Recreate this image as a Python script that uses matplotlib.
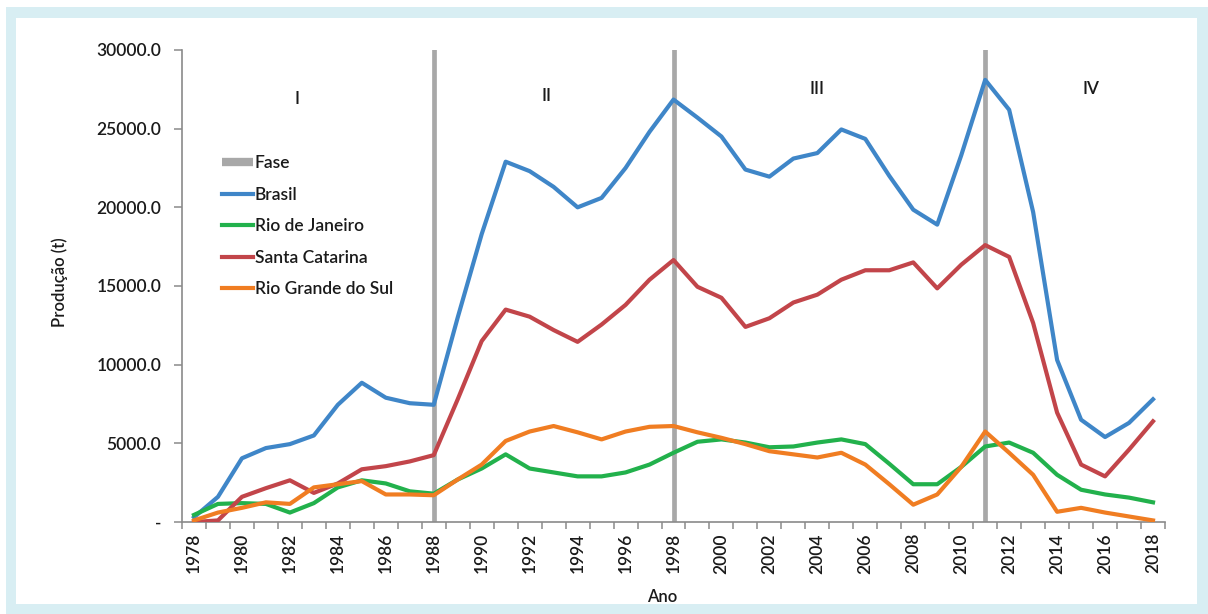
import matplotlib
matplotlib.use("Agg")
import matplotlib.pyplot as plt
from matplotlib.lines import Line2D
from matplotlib.patches import Rectangle
from matplotlib.ticker import FixedLocator, FixedFormatter

plt.rcParams['font.family'] = ['Lato', 'DejaVu Sans']
plt.rcParams['font.weight'] = 'semibold'

years = list(range(1978, 2019))

brasil = [300, 1600, 4050, 4700, 4950, 5500, 7450, 8850, 7900, 7550, 7450,
          13000, 18300, 22900, 22300, 21300, 20000, 20600, 22500, 24800, 26850,
          25700, 24500, 22400, 21950, 23100, 23450, 24950, 24350, 22000, 19850,
          18900, 23300, 28100, 26200, 19700, 10300, 6500, 5400, 6300, 7800]

santa_catarina = [0, 100, 1600, 2150, 2650, 1850, 2450, 3350, 3550, 3850, 4250,
                  7800, 11500, 13500, 13050, 12200, 11450, 12550, 13800, 15400, 16650,
                  14950, 14250, 12400, 12950, 13950, 14450, 15400, 16000, 16000, 16500,
                  14850, 16350, 17600, 16850, 12650, 6950, 3650, 2900, 4600, 6400]

rio_de_janeiro = [450, 1150, 1200, 1150, 600, 1200, 2200, 2650, 2450, 1950, 1800,
                  2700, 3400, 4300, 3400, 3150, 2900, 2900, 3150, 3650, 4400,
                  5100, 5250, 5050, 4750, 4800, 5050, 5250, 4950, 3700, 2400,
                  2400, 3500, 4800, 5050, 4400, 3000, 2050, 1750, 1550, 1250]

rio_grande_do_sul = [100, 600, 900, 1250, 1150, 2200, 2400, 2600, 1750, 1750, 1700,
                     2700, 3650, 5150, 5750, 6100, 5700, 5250, 5750, 6050, 6100,
                     5700, 5350, 4950, 4500, 4300, 4100, 4400, 3650, 2400, 1100,
                     1750, 3500, 5750, 4400, 3000, 650, 900, 600, 350, 100]

phase_breaks = [1988, 1998, 2011]
phase_names = ['I', 'II', 'III', 'IV']
phase_label_x = [1982.3, 1992.7, 2004.0, 2015.4]
phase_label_y = [26900, 27100, 27500, 27500]

y_ticks = [0, 5000, 10000, 15000, 20000, 25000, 30000]
y_tick_labels = ['-', '5000.0', '10000.0', '15000.0', '20000.0', '25000.0', '30000.0']
x_tick_years = list(range(1978, 2019, 2))

c_brasil = '#3f86c8'
c_rj = '#22b14c'
c_sc = '#c2454a'
c_rgs = '#f07d22'
c_fase = '#a8a8a8'
c_axis = '#8a8a8a'
txt = '#1a1a1a'

W, H = 1208, 614
fig = plt.figure(figsize=(W / 100, H / 100), dpi=100)
fig.patch.set_facecolor('white')

# light blue frame around the chart
fig.patches.append(Rectangle((6 / W, 0), 1 - 6 / W, 1 - 7 / H,
                             transform=fig.transFigure, facecolor='#d8eef3',
                             edgecolor='none', zorder=-3))
fig.patches.append(Rectangle((16 / W, 10 / H), 1 - 27 / W, 1 - 28 / H,
                             transform=fig.transFigure, facecolor='white',
                             edgecolor='none', zorder=-2))

ax = fig.add_axes([182 / W, 1 - 522 / H, (1165 - 182) / W, (522 - 50) / H])
ax.set_facecolor('none')

for xb in phase_breaks:
    ax.axvline(xb, color=c_fase, lw=3.4, zorder=1)

lw = 3.0
ax.plot(years, brasil, color=c_brasil, lw=lw, zorder=3)
ax.plot(years, rio_de_janeiro, color=c_rj, lw=lw, zorder=3)
ax.plot(years, santa_catarina, color=c_sc, lw=lw, zorder=3)
ax.plot(years, rio_grande_do_sul, color=c_rgs, lw=lw, zorder=4)

for name, xp, yp in zip(phase_names, phase_label_x, phase_label_y):
    ax.text(xp, yp, name, ha='center', va='center', fontsize=12.5, color=txt)

ax.set_xlim(1977.5, 2018.5)
ax.set_ylim(0, 30000)

for s in ['top', 'right']:
    ax.spines[s].set_visible(False)
for s in ['left', 'bottom']:
    ax.spines[s].set_color(c_axis)
    ax.spines[s].set_linewidth(1.2)

ax.yaxis.set_major_locator(FixedLocator(y_ticks))
ax.yaxis.set_major_formatter(FixedFormatter(y_tick_labels))
ax.tick_params(axis='y', direction='out', length=6, width=1.1, color=c_axis,
               labelsize=12.5, labelcolor=txt, pad=9)

ax.set_xticks(x_tick_years)
ax.set_xticklabels([str(y) for y in x_tick_years], rotation=90)
ax.set_xticks([y + 0.5 for y in range(1977, 2019)], minor=True)
ax.tick_params(axis='x', which='major', length=0, labelsize=12.5,
               labelcolor=txt, pad=8)
ax.tick_params(axis='x', which='minor', direction='out', length=5, width=1.1,
               color=c_axis)

fig.text(60 / W, 1 - 282 / H, 'Produção (t)', rotation=90, ha='center',
         va='center', fontsize=12, color=txt)
fig.text(662 / W, 1 - 597 / H, 'Ano', ha='center', va='center',
         fontsize=12, color=txt)

handles = [
    Line2D([], [], color=c_fase, lw=6, solid_capstyle='butt'),
    Line2D([], [], color=c_brasil, lw=lw),
    Line2D([], [], color=c_rj, lw=lw),
    Line2D([], [], color=c_sc, lw=lw),
    Line2D([], [], color=c_rgs, lw=lw),
]
labels = ['Fase', 'Brasil', 'Rio de Janeiro', 'Santa Catarina', 'Rio Grande do Sul']
leg = ax.legend(handles, labels, loc='upper left',
                bbox_to_anchor=((222 - 182) / 983, (522 - 155) / 472),
                frameon=False, fontsize=12.5, handlelength=1.8,
                handletextpad=0.1, labelspacing=0.9, borderpad=0,
                borderaxespad=0)
for t in leg.get_texts():
    t.set_color(txt)

fig.savefig('out.png', dpi=100, facecolor='white')
